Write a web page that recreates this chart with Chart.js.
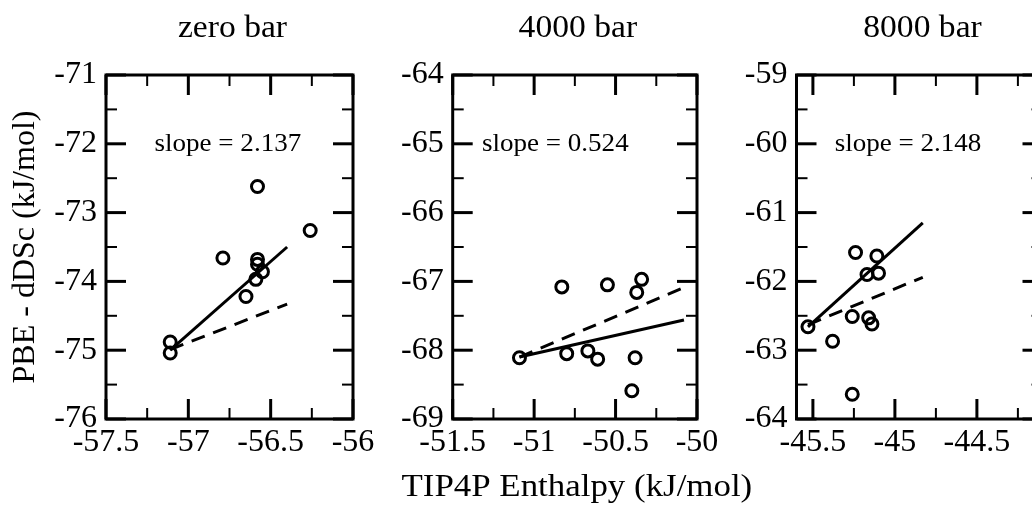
<!DOCTYPE html>
<html>
<head>
<meta charset="utf-8">
<script src="https://cdn.jsdelivr.net/npm/chart.js@4/dist/chart.umd.min.js"></script>
<style>
  html, body { margin: 0; padding: 0; background: #fff; overflow: hidden; }
  #wrap { position: relative; width: 1032px; height: 505px; overflow: hidden; }
  canvas { position: absolute; top: 0; }
</style>
</head>
<body>
<div id="wrap">
  <canvas id="c1" width="380" height="505" style="left:0px"></canvas>
  <canvas id="c2" width="420" height="505" style="left:380px"></canvas>
  <canvas id="c3" width="350" height="505" style="left:720px"></canvas>
</div>
<script>
const FONT = '"Liberation Serif", "Times New Roman", serif';

// zero bar
const zeroX = [-57.11, -57.11, -56.79, -56.58, -56.58, -56.58, -56.55, -56.59, -56.65, -56.26];
const zeroY = [-74.88, -75.04, -73.66, -72.62, -73.68, -73.75, -73.86, -73.97, -74.22, -73.26];
const zeroFitX = [-57.11, -56.40];
const zeroFitY = [-75.00, -73.50];
const zeroRefX = [-57.11, -56.40];
const zeroRefY = [-74.99, -74.33];

// 4000 bar
const midX = [-51.09, -50.83, -50.80, -50.67, -50.61, -50.55, -50.34, -50.37, -50.38, -50.40];
const midY = [-68.11, -67.08, -68.05, -68.01, -68.13, -67.05, -66.97, -67.16, -68.11, -68.59];
const midFitX = [-51.09, -50.08];
const midFitY = [-68.10, -67.56];
const midRefX = [-51.09, -50.08];
const midRefY = [-68.10, -67.09];

// 8000 bar
const highX = [-45.53, -45.38, -45.26, -45.26, -45.24, -45.16, -45.14, -45.17, -45.11, -45.10];
const highY = [-62.66, -62.87, -62.51, -63.64, -61.58, -62.53, -62.62, -61.90, -61.63, -61.88];
const highFitX = [-45.53, -44.83];
const highFitY = [-62.66, -61.15];
const highRefX = [-45.53, -44.83];
const highRefY = [-62.63, -61.94];

// ticks
const xTicks1 = [-57.5, -57, -56.5, -56];
const xMinor1 = [-57.25, -56.75, -56.25];
const yTicks1 = [-76, -75, -74, -73, -72, -71];
const xTicks2 = [-51.5, -51, -50.5, -50];
const xMinor2 = [-51.25, -50.75, -50.25];
const yTicks2 = [-69, -68, -67, -66, -65, -64];
const xTicks3 = [-45.5, -45, -44.5];
const xMinor3 = [-45.25, -44.75, -44.25];
const yTicks3 = [-64, -63, -62, -61, -60, -59];

const titles = ['zero bar', '4000 bar', '8000 bar'];
const slopes = ['slope = 2.137', 'slope = 0.524', 'slope = 2.148'];

function pairs(xs, ys) {
  return xs.map((x, i) => ({ x: x, y: ys[i] }));
}

function halfSteps(ticks) {
  const out = [];
  for (let i = 0; i < ticks.length - 1; i++) out.push((ticks[i] + ticks[i + 1]) / 2);
  return out;
}

// text a little wider than the font, like the original export
function wideText(ctx, text, cx, cy, sx) {
  ctx.save();
  ctx.translate(cx, cy);
  ctx.scale(sx, 1);
  ctx.fillText(text, 0, 0);
  ctx.restore();
}

// box around the plot, inward ticks on all four sides, panel title and slope note
const framePlugin = {
  id: 'frame',
  afterDraw(chart, args, opts) {
    const ctx = chart.ctx;
    const a = chart.chartArea;
    const x = chart.scales.x;
    const y = chart.scales.y;

    function seg(x1, y1, x2, y2, w) {
      ctx.lineWidth = w;
      ctx.beginPath();
      ctx.moveTo(x1, y1);
      ctx.lineTo(x2, y2);
      ctx.stroke();
    }

    ctx.save();
    ctx.strokeStyle = '#000';
    ctx.lineCap = 'butt';

    opts.xMajor.forEach(v => {
      const p = x.getPixelForValue(v);
      seg(p, a.bottom, p, a.bottom - 20, 3);
      seg(p, a.top, p, a.top + 20, 3);
    });
    opts.xMinor.forEach(v => {
      const p = x.getPixelForValue(v);
      seg(p, a.bottom, p, a.bottom - 11, 2);
      seg(p, a.top, p, a.top + 11, 2);
    });
    opts.yMajor.forEach(v => {
      const p = y.getPixelForValue(v);
      seg(a.left, p, a.left + 20, p, 3);
      seg(a.right, p, a.right - 20, p, 3);
    });
    halfSteps(opts.yMajor).forEach(v => {
      const p = y.getPixelForValue(v);
      seg(a.left, p, a.left + 11, p, 2);
      seg(a.right, p, a.right - 11, p, 2);
    });

    ctx.lineWidth = 3;
    ctx.strokeRect(a.left, a.top, a.right - a.left, a.bottom - a.top);

    ctx.fillStyle = '#000';
    ctx.textAlign = 'center';
    ctx.textBaseline = 'alphabetic';
    ctx.font = '32px ' + FONT;
    wideText(ctx, opts.title, (a.left + a.right) / 2 + 3, 37, 1.05);

    // shared x axis title sits under the middle panel
    if (opts.xTitle) {
      wideText(ctx, opts.xTitle, (a.left + a.right) / 2 + 2, 496, 1.09);
    }

    ctx.textBaseline = 'middle';
    ctx.font = '26px ' + FONT;
    wideText(ctx, opts.note, x.getPixelForValue(opts.noteAt[0]), y.getPixelForValue(opts.noteAt[1]), 1.04);
    ctx.restore();
  }
};

function makePanel(id, cfg) {
  const ctx = document.getElementById(id);
  return new Chart(ctx, {
    type: 'scatter',
    data: {
      datasets: [
        {
          data: pairs(cfg.px, cfg.py),
          showLine: false,
          pointStyle: 'circle',
          pointRadius: 6,
          pointBorderWidth: 3,
          pointBorderColor: '#000',
          pointBackgroundColor: 'rgba(0,0,0,0)'
        },
        {
          data: pairs(cfg.fx, cfg.fy),
          showLine: true,
          borderColor: '#000',
          borderWidth: 3,
          pointRadius: 0
        },
        {
          data: pairs(cfg.rx, cfg.ry),
          showLine: true,
          borderColor: '#000',
          borderWidth: 3,
          borderDash: [14, 9],
          pointRadius: 0
        }
      ]
    },
    options: {
      responsive: false,
      animation: false,
      devicePixelRatio: 1,
      layout: { padding: { top: 75, right: cfg.padRight, left: 0, bottom: 0 } },
      plugins: {
        legend: { display: false },
        tooltip: { enabled: false },
        frame: {
          xMajor: cfg.xTicks,
          xMinor: cfg.xMinor,
          yMajor: cfg.yTicks,
          title: cfg.title,
          note: cfg.note,
          noteAt: cfg.noteAt,
          xTitle: cfg.xTitle
        }
      },
      scales: {
        x: {
          type: 'linear',
          min: cfg.xMin,
          max: cfg.xMax,
          afterBuildTicks: s => { s.ticks = cfg.xTicks.map(v => ({ value: v })); },
          afterFit: s => { s.height = 86; },
          grid: { display: false, drawTicks: false },
          border: { display: false },
          ticks: {
            color: '#000',
            font: { family: FONT, size: 32 },
            padding: 4,
            maxRotation: 0,
            autoSkip: false,
            callback: v => String(v)
          }
        },
        y: {
          type: 'linear',
          min: cfg.yMin,
          max: cfg.yMax,
          afterBuildTicks: s => { s.ticks = cfg.yTicks.map(v => ({ value: v })); },
          afterFit: s => { s.width = cfg.yWidth; },
          grid: { display: false, drawTicks: false },
          border: { display: false },
          ticks: {
            color: '#000',
            font: { family: FONT, size: 32 },
            padding: 9,
            autoSkip: false,
            callback: v => String(v)
          },
          title: {
            display: !!cfg.yTitle,
            text: cfg.yTitle || '',
            color: '#000',
            font: { family: FONT, size: 32 },
            padding: { top: 6, bottom: 0 }
          }
        }
      }
    },
    plugins: [framePlugin]
  });
}

makePanel('c1', {
  px: zeroX, py: zeroY, fx: zeroFitX, fy: zeroFitY, rx: zeroRefX, ry: zeroRefY,
  xMin: -57.5, xMax: -56, yMin: -76, yMax: -71,
  xTicks: xTicks1, xMinor: xMinor1, yTicks: yTicks1,
  yWidth: 106, padRight: 27,
  title: titles[0], note: slopes[0], noteAt: [-56.76, -72],
  yTitle: 'PBE - dDSc (kJ/mol)'
});

makePanel('c2', {
  px: midX, py: midY, fx: midFitX, fy: midFitY, rx: midRefX, ry: midRefY,
  xMin: -51.5, xMax: -50, yMin: -69, yMax: -64,
  xTicks: xTicks2, xMinor: xMinor2, yTicks: yTicks2,
  yWidth: 72.7, padRight: 103,
  title: titles[1], note: slopes[1], noteAt: [-50.87, -65],
  xTitle: 'TIP4P Enthalpy (kJ/mol)'
});

makePanel('c3', {
  px: highX, py: highY, fx: highFitX, fy: highFitY, rx: highRefX, ry: highRefY,
  xMin: -45.6, xMax: -44.1, yMin: -64, yMax: -59,
  xTicks: xTicks3, xMinor: xMinor3, yTicks: yTicks3,
  yWidth: 76.5, padRight: 27.5,
  title: titles[2], note: slopes[2], noteAt: [-44.92, -60]
});
</script>
</body>
</html>
